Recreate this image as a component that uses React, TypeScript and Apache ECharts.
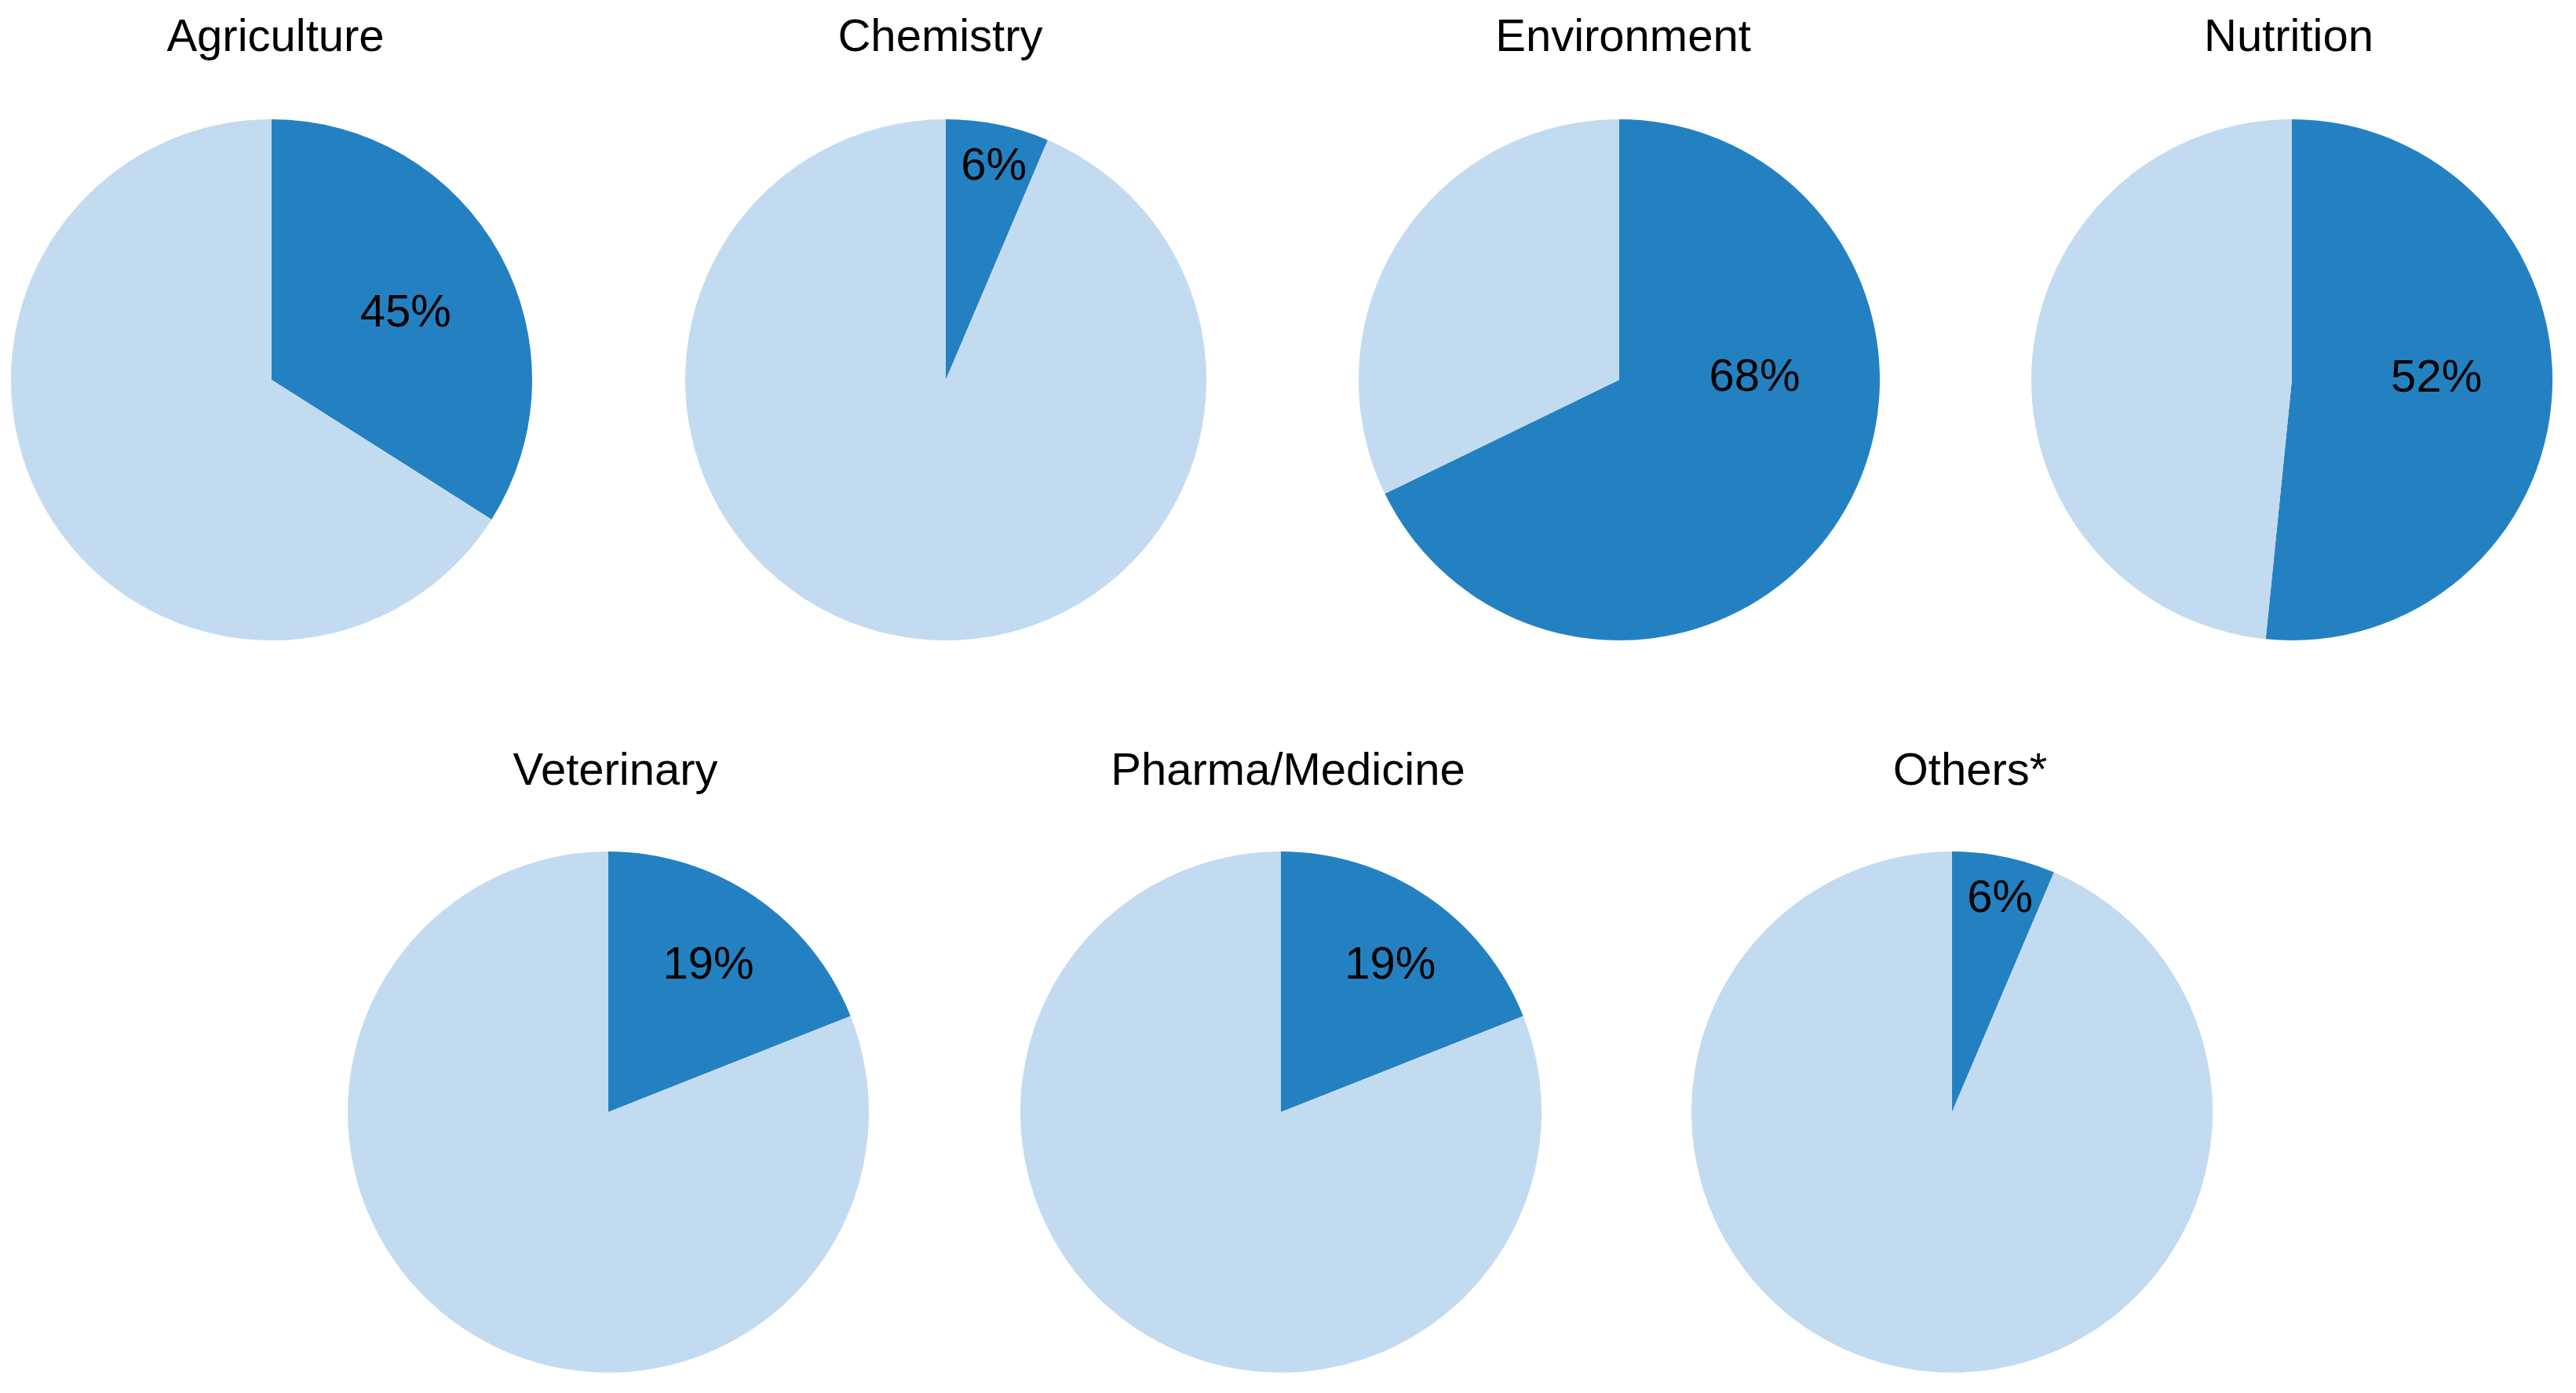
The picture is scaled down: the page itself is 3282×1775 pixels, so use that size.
import React, { useEffect, useRef } from "react";
import * as echarts from "echarts";

// Categories (panel titles)
const categories = [
  "Agriculture",
  "Chemistry",
  "Environment",
  "Nutrition",
  "Veterinary",
  "Pharma/Medicine",
  "Others*",
];

// Share of the highlighted (dark) slice as drawn, in percent
const sliceShare = [34, 6.4, 67.8, 51.6, 19, 19, 6.4];

// Label text printed on the dark slice
const sliceLabels = ["45%", "6%", "68%", "52%", "19%", "19%", "6%"];

// Layout (pixels): pie centres, radius, title positions and label placement (radius fraction, angle in degrees clockwise from top)
const pieCenters: [number, number][] = [
  [346, 484],
  [1205, 484],
  [2063, 484],
  [2920, 484],
  [775, 1417],
  [1632, 1417],
  [2487, 1417],
];
const pieRadius = 332;
const titleCenterX = [351, 1198, 2068, 2916, 784, 1641, 2510];
const titleCenterY = [44, 44, 44, 44, 979, 979, 979];
const labelPlacement: [number, number][] = [
  [0.58, 62.5],
  [0.85, 12.5],
  [0.52, 88],
  [0.555, 88.2],
  [0.69, 33.8],
  [0.71, 36.2],
  [0.85, 12.5],
];

const DARK = "#2481c1";
const LIGHT = "#c3dbf1";
const FONT = "'Liberation Sans', Arial, sans-serif";
const TITLE_SIZE = 58;
const LABEL_SIZE = 58;

export default function App() {
  const ref = useRef<HTMLDivElement>(null);

  useEffect(() => {
    document.body.style.margin = "0";
    if (!ref.current) return;
    const chart = echarts.init(ref.current, undefined, { renderer: "svg" });

    const titles = categories.map((name, i) => ({
      text: name,
      left: titleCenterX[i],
      top: titleCenterY[i] - TITLE_SIZE / 2,
      textAlign: "center",
      padding: 0,
      textStyle: {
        fontFamily: FONT,
        fontSize: TITLE_SIZE,
        fontWeight: "normal",
        color: "#000",
        lineHeight: TITLE_SIZE,
      },
    }));

    const series = categories.map((name, i) => {
      const [cx, cy] = pieCenters[i];
      const [frac, ang] = labelPlacement[i];
      const rad = (ang * Math.PI) / 180;
      const lx = cx + pieRadius * frac * Math.sin(rad);
      const ly = cy - pieRadius * frac * Math.cos(rad);
      return {
        type: "pie",
        name,
        center: [cx, cy],
        radius: [0, pieRadius],
        startAngle: 90,
        clockwise: true,
        silent: true,
        avoidLabelOverlap: false,
        labelLine: { show: false },
        itemStyle: { borderWidth: 0 },
        emphasis: { disabled: true },
        labelLayout: () => ({ x: lx, y: ly, align: "center", verticalAlign: "middle" }),
        data: [
          {
            value: sliceShare[i],
            name: name + " share",
            itemStyle: { color: DARK },
            label: {
              show: true,
              position: "inside",
              formatter: sliceLabels[i],
              fontFamily: FONT,
              fontSize: LABEL_SIZE,
              color: "#000",
            },
          },
          {
            value: 100 - sliceShare[i],
            name: name + " rest",
            itemStyle: { color: LIGHT },
            label: { show: false },
          },
        ],
      };
    });

    chart.setOption({
      animation: false,
      backgroundColor: "#ffffff",
      title: titles,
      series,
    });

    return () => chart.dispose();
  }, []);

  return <div ref={ref} style={{ width: 3282, height: 1775 }} />;
}
